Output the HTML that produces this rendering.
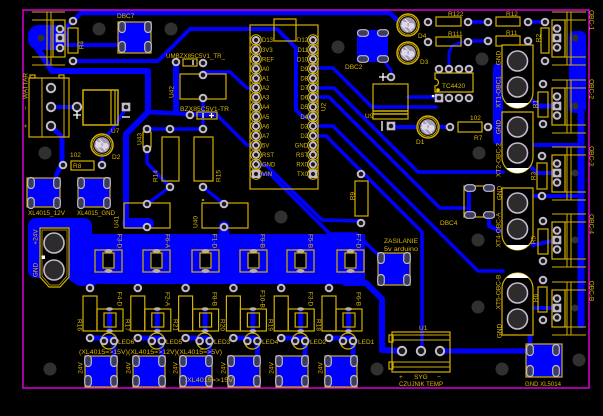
<!DOCTYPE html>
<html><head><meta charset="utf-8"><style>
html,body{margin:0;padding:0;background:#000;width:603px;height:416px;overflow:hidden}
svg{display:block}
text{font-family:"Liberation Sans",sans-serif;fill:#dcb800}
</style></head><body>
<svg width="603" height="416" viewBox="0 0 603 416" xmlns="http://www.w3.org/2000/svg">
<defs>
<g id="tp"><circle r="4.3" fill="#c4bccc"/><circle r="2.3" fill="#1a1a1a"/></g>
<g id="sq"><rect x="-4.3" y="-4.3" width="8.6" height="8.6" fill="#c4bccc"/><circle r="2.3" fill="#1a1a1a"/></g>
<g id="bp"><circle r="5.2" fill="#c4bccc"/><circle r="3.2" fill="#1a1a1a"/></g>
<g id="ap"><circle r="5.3" fill="none" stroke="#d4b000" stroke-width="1"/><circle r="4" fill="#c4bccc"/><circle r="2.1" fill="#1a1a1a"/></g>
<g id="aps"><circle r="5.3" fill="none" stroke="#d4b000" stroke-width="1"/><rect x="-4" y="-4" width="8" height="8" fill="#c4bccc"/><circle r="2.1" fill="#1a1a1a"/></g>
<g id="ov"><rect x="-3.3" y="-5.5" width="6.6" height="11" rx="3.3" fill="#3c3c5c" stroke="#c0b8cc" stroke-width="1.2"/></g>
<g id="oh"><rect x="-5.5" y="-3.3" width="11" height="6.6" rx="3.3" fill="#3c3c5c" stroke="#c0b8cc" stroke-width="1.2"/></g>
<g id="big"><circle r="10" fill="#2c2c2c" stroke="#c8b8d0" stroke-width="1.6"/></g>
<g id="led"><circle r="11" fill="#000" stroke="#d4b000" stroke-width="1.5"/><circle r="9.3" fill="none" stroke="#d4b000" stroke-width="0.8"/><circle r="7.8" fill="#a49cb0"/><path d="M-6,-4 L4,6 M-3,-6 L6,3 M-7,0 L0,7" stroke="#e8e0f0" stroke-width="1"/><rect x="-6" y="-3" width="5.5" height="5.5" fill="#e0d8e8"/><circle cx="3.5" cy="1" r="3" fill="#e0d8e8"/></g>
<g id="hole"><circle r="6.5" fill="#303030"/></g>
<g id="fuse"><rect x="0" y="0" width="27" height="22" fill="none" stroke="#d4b000" stroke-width="1.2"/><rect x="8" y="3" width="11" height="15" fill="#000" stroke="#d4b000" stroke-width="1.2"/><ellipse cx="13.5" cy="1" rx="4" ry="2" fill="#b8b0a0"/><ellipse cx="13.5" cy="21" rx="4" ry="2" fill="#b8b0a0"/></g>
<g id="hdr"><rect x="552" y="-18" width="13" height="37" fill="none" stroke="#d4b000" stroke-width="1.2"/><path d="M552,-26 H586 M552,27 H586 M567,-26 V27 M571,-26 V27 M565,-18 H586 M565,19 H586" stroke="#d4b000" stroke-width="1" fill="none"/><circle cx="575" cy="0" r="3.5" fill="#303030"/><use href="#tp" x="557" y="-9.5"/><use href="#sq" x="557" y="0"/><use href="#tp" x="557" y="9.5"/></g>
</defs>
<rect width="603" height="416" fill="#000"/>

<!-- ============ BLUE COPPER ============ -->
<g fill="#0000ff" stroke="none">
<rect x="28" y="25" width="40" height="25" rx="11"/>
<rect x="118" y="22" width="33" height="31"/>
<rect x="357" y="30" width="31" height="32"/>
<rect x="27" y="178" width="33" height="29"/>
<rect x="78" y="178" width="32" height="29"/>
<rect x="28" y="218" width="64" height="60" rx="8"/>
<rect x="62" y="234" width="303" height="13"/>
<rect x="92" y="246" width="273" height="38"/>
<rect x="122" y="218" width="32" height="11" rx="5.5"/>
<rect x="378" y="253" width="32" height="32"/>
<rect x="526" y="344" width="36" height="33"/>
<rect x="569" y="31" width="17" height="82" rx="5"/>
<rect x="85" y="356" width="32" height="31"/>
<rect x="133" y="356" width="32" height="31"/>
<rect x="180" y="356" width="32" height="31"/>
<rect x="228" y="356" width="32" height="31"/>
<rect x="276" y="356" width="32" height="31"/>
<rect x="325" y="356" width="32" height="31"/>
</g>
<g fill="none" stroke="#0000ff" stroke-linecap="round" stroke-linejoin="round">
<path d="M67,27 L81,13 L390,13 L400,23 L404,24" stroke-width="4.5"/>
<path d="M73,61 L158,61 L190,29 L277,29 L296,48 L296,110 L303,117 L313,117" stroke-width="4"/>
<path d="M36,46 L52,71 L148,71 L148,112 L126,134 L126,222" stroke-width="6"/>
<path d="M148,112 L190,114 L217,115" stroke-width="4.5"/>
<path d="M176,62 L176,112" stroke-width="6"/>
<path d="M63,45 L122,45" stroke-width="4"/>
<path d="M51,107 L77,107" stroke-width="4"/>
<path d="M126,108 L116,124 L104,140" stroke-width="3.5"/>
<path d="M51,126 L62,137 L62,163 L56,176" stroke-width="5"/>
<path d="M102,152 L102,165" stroke-width="3"/>
<path d="M203,72 L230,72 L247,88 L256,88" stroke-width="3.5"/>
<path d="M217,115 L247,145 L256,145" stroke-width="3.5"/>
<path d="M147,129 L203,129 M203,98 L203,129" stroke-width="3.5"/>
<path d="M147,149 L147,163 L170,187 L147,204" stroke-width="3.5"/>
<path d="M203,187 L224,204" stroke-width="3.5"/>
<path d="M224,226 L224,240" stroke-width="10"/>
<path d="M313,68 L333,68 L372,107 L436,107" stroke-width="3.5"/>
<path d="M313,88 L334,88 L418,172 L503,172" stroke-width="3.5"/>
<path d="M313,97 L329,97 L440,208 L465,208" stroke-width="3.5"/>
<path d="M313,126 L333,126 L478,271 L503,271" stroke-width="3.5"/>
<path d="M313,136 L326,136 L422,232 L422,350" stroke-width="3.5"/>
<path d="M256,165 L266,165 L322,220 L361,221" stroke-width="3.5"/>
<path d="M256,174 L270,174 L330,234 L357,234 L372,249 L380,256" stroke-width="3.5"/>
<path d="M498,68 L498,140" stroke-width="10"/>
<path d="M581,112 L581,325" stroke-width="7"/>
<path d="M517,87 L538,106 L557,106" stroke-width="5"/>
<path d="M522,145 L581,145" stroke-width="4"/>
<path d="M517,153 L537,173 L557,173" stroke-width="4"/>
<path d="M522,196 L581,196" stroke-width="4"/>
<path d="M517,229 L533,245 L557,240" stroke-width="4"/>
<path d="M517,319 L528,308 L557,308" stroke-width="4"/>
<path d="M469,188 L469,215" stroke-width="4"/>
<path d="M489,215 L489,226 L502,232" stroke-width="4"/>
<path d="M468,22 L488,22 M528,22 L545,22 M468,41 L488,41" stroke-width="3.5"/>
<path d="M462,42 L452,46 L449,52 L449,69" stroke-width="3"/>
<path d="M392,127 L450,127" stroke-width="4"/>
<path d="M408,97 L437,97" stroke-width="3.5"/>
<path d="M383,60 L391,70 L391,77" stroke-width="3"/>
<path d="M54,262 L80,280 L92,280" stroke-width="12"/>
<path d="M345,283 L366,283 L382,299 L382,350 L402,351" stroke-width="6"/>
<path d="M440,351 L528,351 M530,336 L530,350" stroke-width="5"/>
<path d="M90,284V288 M137.8,284V288 M185.6,284V288 M233.4,284V288 M281.2,284V288 M329,284V288" stroke-width="4"/>
<path d="M90,338H114V360 M137.8,338H161.8V360 M185.6,338H209.6V360 M233.4,338H257.4V360 M281.2,338H305.2V360 M329,338H353V360" stroke-width="5"/>
<path d="M109.5,313V331 M157.3,313V331 M205.1,313V331 M252.9,313V331 M300.7,313V331 M348.5,313V331" stroke-width="4"/>
</g>

<!-- mounting holes -->
<use href="#hole" x="99" y="29"/><use href="#hole" x="171" y="29"/><use href="#hole" x="338" y="47"/>
<use href="#hole" x="482" y="59"/><use href="#hole" x="45" y="153"/><use href="#hole" x="281" y="217"/>
<use href="#hole" x="479" y="153"/><use href="#hole" x="478" y="240"/><use href="#hole" x="50" y="369"/>
<use href="#hole" x="478" y="307"/><use href="#hole" x="502" y="369"/><use href="#hole" x="579" y="360"/>
<use href="#hole" x="377" y="369"/>
<circle cx="41" cy="38" r="3.5" fill="#303030"/>

<!-- magenta border -->
<rect x="23" y="10" width="566" height="378" fill="none" stroke="#d800d8" stroke-width="1.5"/>

<!-- ============ SILKSCREEN ============ -->
<g fill="none" stroke="#d4b000" stroke-width="1.2">
<!-- top-left header -->
<rect x="53" y="20" width="12" height="37"/>
<path d="M32,12 H65 M32,65 H65 M47,12 V65 M51,12 V65 M32,20 H53 M32,57 H53" stroke-width="1"/>
<!-- R4 -->
<rect x="68" y="28" width="10" height="25"/>
<rect x="118" y="22" width="33" height="31"/>
<!-- WATTAR terminal -->
<rect x="29" y="78" width="40" height="59"/>
<path d="M42,78 V137 M64,78 V137" stroke-width="1"/>
<rect x="30" y="75" width="5" height="3"/><rect x="59" y="75" width="5" height="3"/>
<!-- U7 -->
<rect x="83" y="90" width="35" height="35" stroke-width="1.5"/>
<path d="M111,90 V125 M115,90 V125"/>
<!-- R8 -->
<rect x="71" y="161" width="23" height="9"/>
<!-- XL pads outlines -->
<rect x="27" y="178" width="33" height="29"/><rect x="78" y="178" width="32" height="29"/>
<!-- U42 -->
<rect x="180" y="74" width="46" height="25"/>
<rect x="183" y="59" width="14" height="7"/>
<rect x="197" y="112" width="20" height="7"/>
<!-- U43 -->
<rect x="143" y="132" width="8" height="15"/>
<!-- R14 R15 -->
<rect x="162" y="137" width="17" height="44"/>
<rect x="194" y="137" width="19" height="44"/>
<!-- U41 U40 -->
<rect x="124" y="203" width="46" height="25"/>
<rect x="202" y="203" width="46" height="25"/>
<!-- Arduino -->
<rect x="250" y="25" width="68" height="164"/>
<rect x="274" y="19" width="22" height="22"/>
<!-- DBC2 / U9 -->
<rect x="373" y="84" width="35" height="35"/>
<path d="M373,111 H408 M373,114 H408" stroke-width="1.5"/>
<!-- R9 -->
<rect x="355" y="181" width="13" height="35"/>
<!-- top right resistors -->
<rect x="436" y="17" width="25" height="9"/><rect x="496" y="17" width="24" height="9"/>
<rect x="436" y="37" width="25" height="9"/><rect x="496" y="36" width="24" height="10"/>
<path d="M435,73 H473 V92 H435 V86 A3.5,3.5 0 0 0 435,79 Z"/>
<rect x="458" y="122" width="24" height="10"/>
<!-- right resistors -->
<rect x="541" y="28" width="8" height="25"/><rect x="538" y="92" width="10" height="25"/>
<rect x="537" y="163" width="10" height="26"/><rect x="538" y="229" width="10" height="25"/>
<rect x="538" y="287" width="9" height="25"/>
<!-- DBC4 -->
<rect x="464" y="186" width="30" height="31"/>
<!-- ZASILANIE, XL5014 -->
<rect x="378" y="253" width="32" height="32"/>
<rect x="526" y="344" width="36" height="33"/>
<!-- U1 -->
<rect x="392" y="332" width="58" height="40"/>
<path d="M392,335 H450 M392,340 H450 M392,362 H450 M392,367 H450" stroke-width="1"/>
<rect x="389" y="335" width="4" height="7"/><rect x="389" y="362" width="4" height="7"/>
<!-- lower row resistors, smd, leds -->
<rect x="83" y="296" width="14" height="35"/><rect x="130.8" y="296" width="14" height="35"/><rect x="178.6" y="296" width="14" height="35"/>
<rect x="226.4" y="296" width="14" height="35"/><rect x="274.2" y="296" width="14" height="35"/><rect x="322" y="296" width="14" height="35"/>
<rect x="97" y="309" width="26" height="22"/><rect x="144.8" y="309" width="26" height="22"/><rect x="192.6" y="309" width="26" height="22"/>
<rect x="240.4" y="309" width="26" height="22"/><rect x="288.2" y="309" width="26" height="22"/><rect x="336" y="309" width="26" height="22"/>
<rect x="104" y="313" width="12" height="14"/><rect x="151.8" y="313" width="12" height="14"/><rect x="199.6" y="313" width="12" height="14"/>
<rect x="247.4" y="313" width="12" height="14"/><rect x="295.2" y="313" width="12" height="14"/><rect x="343" y="313" width="12" height="14"/>
<circle cx="109" cy="341" r="8"/><circle cx="156.8" cy="341" r="8"/><circle cx="204.6" cy="341" r="8"/>
<circle cx="252.4" cy="341" r="8"/><circle cx="300.2" cy="341" r="8"/><circle cx="348" cy="341" r="8"/>
<rect x="85" y="356" width="32" height="31"/><rect x="133" y="356" width="32" height="31"/><rect x="180" y="356" width="32" height="31"/>
<rect x="228" y="356" width="32" height="31"/><rect x="276" y="356" width="32" height="31"/><rect x="325" y="356" width="32" height="31"/>
</g>

<!-- blue strips inside lower smd -->
<g fill="#0000ff"><rect x="107" y="314" width="5" height="12"/><rect x="154.8" y="314" width="5" height="12"/><rect x="202.6" y="314" width="5" height="12"/><rect x="250.4" y="314" width="5" height="12"/><rect x="298.2" y="314" width="5" height="12"/><rect x="346" y="314" width="5" height="12"/></g>
<g fill="#b8b0a0">
<ellipse cx="109.5" cy="309" rx="3.5" ry="1.8"/><ellipse cx="109.5" cy="331" rx="3.5" ry="1.8"/>
<ellipse cx="157.3" cy="309" rx="3.5" ry="1.8"/><ellipse cx="157.3" cy="331" rx="3.5" ry="1.8"/>
<ellipse cx="205.1" cy="309" rx="3.5" ry="1.8"/><ellipse cx="205.1" cy="331" rx="3.5" ry="1.8"/>
<ellipse cx="252.9" cy="309" rx="3.5" ry="1.8"/><ellipse cx="252.9" cy="331" rx="3.5" ry="1.8"/>
<ellipse cx="300.7" cy="309" rx="3.5" ry="1.8"/><ellipse cx="300.7" cy="331" rx="3.5" ry="1.8"/>
<ellipse cx="348.5" cy="309" rx="3.5" ry="1.8"/><ellipse cx="348.5" cy="331" rx="3.5" ry="1.8"/>
</g>

<!-- upper fuses -->
<use href="#fuse" x="95" y="250"/><use href="#fuse" x="143" y="250"/><use href="#fuse" x="192" y="250"/>
<use href="#fuse" x="240" y="250"/><use href="#fuse" x="287" y="250"/><use href="#fuse" x="337" y="250"/>

<!-- +24V connector -->
<path d="M40,228 H69 V277 L60,287 H49 L40,277 Z" fill="#000" stroke="#d4b000" stroke-width="1.2"/>
<path d="M42,230 H67 V276 L59,285 H50 L42,276 Z" fill="none" stroke="#d4b000" stroke-width="0.7"/>
<use href="#big" x="54" y="243"/><use href="#big" x="54" y="270"/>
<rect x="41.5" y="255.5" width="3.5" height="3.5" fill="#fff"/>

<!-- XT connectors -->
<g stroke="#d4b000" stroke-width="1.2" fill="#000">
<path d="M502,45 H533 V92.5 A15.5,15.5 0 0 1 502,92.5 Z"/>
<path d="M502,112 H533 V157.5 A15.5,15.5 0 0 1 502,157.5 Z"/>
<path d="M502,188 H533 V234.5 A15.5,15.5 0 0 1 502,234.5 Z"/>
<path d="M502,335 H533 V288.5 A15.5,15.5 0 0 0 502,288.5 Z"/>
</g>
<g fill="#fff">
<path d="M506.1,103 A15.5,15.5 0 0 0 528.9,103 Z"/>
<path d="M506.1,168 A15.5,15.5 0 0 0 528.9,168 Z"/>
<path d="M506.1,245 A15.5,15.5 0 0 0 528.9,245 Z"/>
<path d="M506.1,278 A15.5,15.5 0 0 1 528.9,278 Z"/>
</g>
<use href="#big" x="517.5" y="61"/><use href="#big" x="517.5" y="87"/>
<use href="#big" x="517.5" y="127"/><use href="#big" x="517.5" y="153"/>
<use href="#big" x="517.5" y="203"/><use href="#big" x="517.5" y="229"/>
<use href="#big" x="517.5" y="293"/><use href="#big" x="517.5" y="319"/>

<!-- right headers -->
<use href="#hdr" x="0" y="38"/><use href="#hdr" x="0" y="106"/><use href="#hdr" x="0" y="173"/>
<use href="#hdr" x="0" y="240"/><use href="#hdr" x="0" y="308"/>

<!-- LEDs -->
<use href="#led" x="408" y="25"/><use href="#led" x="408" y="53"/>
<use href="#led" x="428" y="127"/><use href="#led" x="102" y="145"/>

<!-- pads -->
<use href="#tp" x="60" y="29"/><use href="#sq" x="60" y="38"/><use href="#tp" x="60" y="48"/>
<use href="#tp" x="73" y="21"/><use href="#tp" x="73" y="61"/>
<use href="#bp" x="51" y="88"/><use href="#bp" x="51" y="107"/><use href="#bp" x="51" y="126"/>
<use href="#bp" x="77" y="107"/><use href="#sq" x="126" y="107"/>
<use href="#tp" x="63" y="165"/><use href="#tp" x="102" y="165"/>
<use href="#tp" x="176" y="62"/><use href="#tp" x="203" y="63"/><use href="#tp" x="203" y="75"/><use href="#tp" x="203" y="98"/>
<use href="#tp" x="190" y="115"/><use href="#tp" x="147" y="129"/><use href="#tp" x="147" y="149"/>
<use href="#tp" x="170" y="129"/><use href="#tp" x="203" y="129"/><use href="#tp" x="170" y="187"/><use href="#tp" x="203" y="187"/>
<use href="#tp" x="147" y="204"/><use href="#tp" x="147" y="227"/><use href="#tp" x="224" y="204"/><use href="#tp" x="224" y="227"/>
<use href="#tp" x="361" y="174"/><use href="#tp" x="361" y="223"/>
<use href="#tp" x="391" y="77"/><use href="#sq" x="391" y="126"/>
<use href="#tp" x="450" y="127"/><use href="#tp" x="488" y="127"/>
<use href="#tp" x="428" y="22"/><use href="#tp" x="468" y="22"/><use href="#tp" x="488" y="22"/><use href="#tp" x="528" y="22"/>
<use href="#tp" x="428" y="42"/><use href="#tp" x="468" y="42"/><use href="#tp" x="488" y="41"/><use href="#tp" x="528" y="41"/>
<use href="#tp" x="439" y="69"/><use href="#tp" x="449" y="69"/><use href="#tp" x="459" y="69"/><use href="#tp" x="469" y="69"/>
<use href="#sq" x="439" y="98"/><use href="#tp" x="449" y="98"/><use href="#tp" x="459" y="98"/><use href="#tp" x="469" y="98"/>
<use href="#tp" x="545" y="22"/><use href="#tp" x="545" y="61"/><use href="#tp" x="543" y="84"/><use href="#tp" x="543" y="124"/>
<use href="#tp" x="542" y="156"/><use href="#tp" x="542" y="196"/><use href="#tp" x="543" y="221"/><use href="#tp" x="543" y="261"/>
<use href="#tp" x="543" y="280"/><use href="#tp" x="543" y="320"/>
<use href="#bp" x="402" y="351"/><use href="#bp" x="421" y="351"/><use href="#bp" x="440" y="351"/>
<use href="#tp" x="90" y="288"/><use href="#tp" x="137.8" y="288"/><use href="#tp" x="185.6" y="288"/><use href="#tp" x="233.4" y="288"/><use href="#tp" x="281.2" y="288"/><use href="#tp" x="329" y="288"/>
<use href="#tp" x="90" y="338"/><use href="#tp" x="137.8" y="338"/><use href="#tp" x="185.6" y="338"/><use href="#tp" x="233.4" y="338"/><use href="#tp" x="281.2" y="338"/><use href="#tp" x="329" y="338"/>
<g>
<use href="#tp" x="104" y="341"/><use href="#tp" x="114" y="341"/><use href="#tp" x="151.8" y="341"/><use href="#tp" x="161.8" y="341"/>
<use href="#tp" x="199.6" y="341"/><use href="#tp" x="209.6" y="341"/><use href="#tp" x="247.4" y="341"/><use href="#tp" x="257.4" y="341"/>
<use href="#tp" x="295.2" y="341"/><use href="#tp" x="305.2" y="341"/><use href="#tp" x="343" y="341"/><use href="#tp" x="353" y="341"/>
</g>

<!-- SMD ovals -->
<use href="#ov" x="122" y="27"/><use href="#ov" x="148" y="27"/><use href="#ov" x="122" y="47"/><use href="#ov" x="148" y="47"/>
<use href="#oh" x="363" y="33"/><use href="#oh" x="383" y="33"/><use href="#oh" x="363" y="59"/><use href="#oh" x="383" y="59"/>
<use href="#ov" x="31" y="183"/><use href="#ov" x="57" y="183"/><use href="#ov" x="31" y="203"/><use href="#ov" x="57" y="203"/>
<use href="#ov" x="81" y="183"/><use href="#ov" x="107" y="183"/><use href="#ov" x="81" y="203"/><use href="#ov" x="107" y="203"/>
<use href="#oh" x="470" y="188"/><use href="#oh" x="489" y="188"/><use href="#oh" x="470" y="215"/><use href="#oh" x="489" y="215"/>
<use href="#ov" x="381" y="258"/><use href="#ov" x="407" y="258"/><use href="#ov" x="381" y="280"/><use href="#ov" x="407" y="280"/>
<use href="#ov" x="530" y="350"/><use href="#ov" x="556" y="350"/><use href="#ov" x="530" y="371"/><use href="#ov" x="556" y="371"/>
<use href="#ov" x="88" y="361"/><use href="#ov" x="114" y="361"/><use href="#ov" x="88" y="381"/><use href="#ov" x="114" y="381"/>
<use href="#ov" x="136" y="361"/><use href="#ov" x="162" y="361"/><use href="#ov" x="136" y="381"/><use href="#ov" x="162" y="381"/>
<use href="#ov" x="183" y="361"/><use href="#ov" x="209" y="361"/><use href="#ov" x="183" y="381"/><use href="#ov" x="209" y="381"/>
<use href="#ov" x="231" y="361"/><use href="#ov" x="257" y="361"/><use href="#ov" x="231" y="381"/><use href="#ov" x="257" y="381"/>
<use href="#ov" x="279" y="361"/><use href="#ov" x="305" y="361"/><use href="#ov" x="279" y="381"/><use href="#ov" x="305" y="381"/>
<use href="#ov" x="328" y="361"/><use href="#ov" x="354" y="361"/><use href="#ov" x="328" y="381"/><use href="#ov" x="354" y="381"/>

<!-- Arduino pins -->
<use href="#ap" x="256" y="40"/><use href="#ap" x="256" y="49.6"/><use href="#ap" x="256" y="59.1"/><use href="#ap" x="256" y="68.7"/><use href="#ap" x="256" y="78.3"/>
<use href="#ap" x="256" y="87.9"/><use href="#ap" x="256" y="97.4"/><use href="#ap" x="256" y="107"/><use href="#ap" x="256" y="116.6"/><use href="#ap" x="256" y="126.1"/>
<use href="#ap" x="256" y="135.7"/><use href="#ap" x="256" y="145.3"/><use href="#ap" x="256" y="154.8"/><use href="#ap" x="256" y="164.4"/><use href="#aps" x="256" y="174"/>
<use href="#ap" x="313" y="40"/><use href="#ap" x="313" y="49.6"/><use href="#ap" x="313" y="59.1"/><use href="#ap" x="313" y="68.7"/><use href="#ap" x="313" y="78.3"/>
<use href="#ap" x="313" y="87.9"/><use href="#ap" x="313" y="97.4"/><use href="#ap" x="313" y="107"/><use href="#ap" x="313" y="116.6"/><use href="#ap" x="313" y="126.1"/>
<use href="#ap" x="313" y="135.7"/><use href="#ap" x="313" y="145.3"/><use href="#ap" x="313" y="154.8"/><use href="#ap" x="313" y="164.4"/><use href="#aps" x="313" y="174"/>

<!-- white marks -->
<g stroke="#fff" stroke-width="1.3" fill="none">
<path d="M73,115 H81 M77,111 V119"/>
<path d="M122,117 H130"/>
<path d="M379,77 H387 M383,73 V81"/>
<path d="M382,121 V131"/>
<path d="M193,60 V65"/>
<path d="M203,113 V118 M209,115.5 H214 M211.5,113 V118"/>
</g>
<circle cx="433" cy="96" r="1.3" fill="#fff"/>
<circle cx="438" cy="90" r="1.8" fill="#e8c800"/>
<circle cx="203" cy="200" r="1" fill="#e8c800"/>

<!-- ============ TEXT ============ -->
<g font-size="6.5">
<text x="117" y="18">DBC7</text>
<text x="111" y="133">U7</text>
<text x="112" y="159">D2</text>
<text x="70" y="157">102</text>
<text x="73" y="168">R8</text>
<text x="28" y="215" textLength="37" lengthAdjust="spacingAndGlyphs">XL4015_12V</text>
<text x="77" y="215" textLength="38" lengthAdjust="spacingAndGlyphs">XL4015_GND</text>
<text x="166" y="58" textLength="59" lengthAdjust="spacingAndGlyphs">UMBZX85C5V1_TR_</text>
<text x="180" y="111" textLength="49" lengthAdjust="spacingAndGlyphs">BZX85C5V1-TR</text>
<text x="79" y="354" textLength="143" lengthAdjust="spacingAndGlyphs">(XL4015=&gt;15V)(XL4015=&gt;12V)(XL4015=&gt;5V)</text>
<text x="187" y="382" textLength="46" lengthAdjust="spacingAndGlyphs">XL4015=&gt;15V</text>
<text x="118" y="344">LED6</text><text x="166" y="344">LED5</text><text x="214" y="344">LED3</text>
<text x="262" y="344">LED4</text><text x="310" y="344">LED2</text><text x="358" y="344">LED1</text>
<text x="384" y="243" textLength="34" lengthAdjust="spacingAndGlyphs">ZASILANIE</text>
<text x="384" y="251" textLength="34" lengthAdjust="spacingAndGlyphs">5v arduino</text>
<text x="419" y="330">U1</text>
<text x="399" y="379">+</text><text x="414" y="379">SYG</text><text x="437" y="379">−</text>
<text x="399" y="386" textLength="44" lengthAdjust="spacingAndGlyphs">CZUJNIK TEMP</text>
<text x="525" y="386" textLength="36" lengthAdjust="spacingAndGlyphs">GND XL5014</text>
<text x="345" y="69">DBC2</text>
<text x="365" y="118">U9</text>
<text x="416" y="144">D1</text>
<text x="470" y="120">102</text>
<text x="474" y="140">R7</text>
<text x="418" y="38">D4</text>
<text x="420" y="64">D3</text>
<text x="448" y="16">R122</text>
<text x="506" y="16">R12</text>
<text x="448" y="36">R111</text>
<text x="506" y="35">R11</text>
<text x="442" y="88">TC4420</text>
<text x="440" y="225">DBC4</text>
</g>
<g font-size="6.5" text-anchor="middle">
<text transform="translate(81,45) rotate(-90)" dy="2.3">R4</text>
<text transform="translate(25,86) rotate(-90)" dy="2.3">WATTAR</text>
<text transform="translate(25,108) rotate(-90)" dy="2.3">−</text>
<text transform="translate(25,126) rotate(-90)" dy="2.3">+</text>
<text transform="translate(35,237) rotate(-90)" dy="2.3">+24V</text>
<text transform="translate(35,270) rotate(-90)" dy="2.3">GND</text>
<text transform="translate(171,92) rotate(-90)" dy="2.3">U42</text>
<text transform="translate(139,139) rotate(-90)" dy="2.3">U43</text>
<text transform="translate(155,176) rotate(-90)" dy="2.3">R14</text>
<text transform="translate(218,176) rotate(-90)" dy="2.3">R15</text>
<text transform="translate(116,222) rotate(-90)" dy="2.3">U41</text>
<text transform="translate(195,222) rotate(-90)" dy="2.3">U40</text>
<text transform="translate(352,196) rotate(-90)" dy="2.3">R9</text>
<text transform="translate(323,107) rotate(-90)" dy="2.3">U2</text>
<text transform="translate(120,241) rotate(90)" dy="2.3">F3-D</text>
<text transform="translate(168,241) rotate(90)" dy="2.3">F6-A</text>
<text transform="translate(215,241) rotate(90)" dy="2.3">F1-D</text>
<text transform="translate(263,241) rotate(90)" dy="2.3">F9-B</text>
<text transform="translate(311,241) rotate(90)" dy="2.3">F5-B</text>
<text transform="translate(359,241) rotate(90)" dy="2.3">F7-D</text>
<text transform="translate(120,299) rotate(90)" dy="2.3">F4-D</text>
<text transform="translate(168,299) rotate(90)" dy="2.3">F2-A</text>
<text transform="translate(215,299) rotate(90)" dy="2.3">F8-B</text>
<text transform="translate(263,299) rotate(90)" dy="2.3">F10-B</text>
<text transform="translate(311,299) rotate(90)" dy="2.3">F3-D</text>
<text transform="translate(359,299) rotate(90)" dy="2.3">F6-B</text>
<text transform="translate(80,325) rotate(90)" dy="2.3">R16</text>
<text transform="translate(128,325) rotate(90)" dy="2.3">R17</text>
<text transform="translate(176,325) rotate(90)" dy="2.3">R21</text>
<text transform="translate(223,325) rotate(90)" dy="2.3">R20</text>
<text transform="translate(271,325) rotate(90)" dy="2.3">R19</text>
<text transform="translate(319,325) rotate(90)" dy="2.3">R18</text>
<text transform="translate(80,368) rotate(-90)" dy="2.3">24V</text>
<text transform="translate(128,368) rotate(-90)" dy="2.3">24V</text>
<text transform="translate(175,368) rotate(-90)" dy="2.3">24V</text>
<text transform="translate(223,368) rotate(-90)" dy="2.3">24V</text>
<text transform="translate(271,368) rotate(-90)" dy="2.3">24V</text>
<text transform="translate(320,368) rotate(-90)" dy="2.3">24V</text>
<text transform="translate(498,58) rotate(-90)" dy="2.3">GND</text>
<text transform="translate(498,92) rotate(-90)" dy="2.3">XT1-OBC1</text>
<text transform="translate(498,127) rotate(-90)" dy="2.3">GND</text>
<text transform="translate(498,160) rotate(-90)" dy="2.3">XT2-OBC-2</text>
<text transform="translate(499,193) rotate(-90)" dy="2.3">GND</text>
<text transform="translate(498,230) rotate(-90)" dy="2.3">XT4-OBC-A</text>
<text transform="translate(498,292) rotate(-90)" dy="2.3">XT5-OBC-B</text>
<text transform="translate(499,331) rotate(-90)" dy="2.3">GND</text>
<text transform="translate(538,38) rotate(-90)" dy="2.3">R2</text>
<text transform="translate(535,104) rotate(-90)" dy="2.3">R1</text>
<text transform="translate(533,176) rotate(-90)" dy="2.3">R3</text>
<text transform="translate(533,240) rotate(-90)" dy="2.3">R5</text>
<text transform="translate(535,298) rotate(-90)" dy="2.3">R6</text>
<text transform="translate(592,20) rotate(90)" dy="2.3">OBC-1</text>
<text transform="translate(592,89) rotate(90)" dy="2.3">OBC-2</text>
<text transform="translate(592,156) rotate(90)" dy="2.3">OBC-3</text>
<text transform="translate(592,224) rotate(90)" dy="2.3">OBC-4</text>
<text transform="translate(592,291) rotate(90)" dy="2.3">OBC-B</text>
</g>
<g font-size="6">
<text x="262" y="42.2">D13</text><text x="262" y="51.8">3V3</text><text x="262" y="61.3">REF</text><text x="262" y="70.9">A0</text><text x="262" y="80.5">A1</text>
<text x="262" y="90.1">A2</text><text x="262" y="99.6">A3</text><text x="262" y="109.2">A4</text><text x="262" y="118.8">A5</text><text x="262" y="128.3">A6</text>
<text x="262" y="137.9">A7</text><text x="262" y="147.5">5V</text><text x="262" y="157">RST</text><text x="262" y="166.6">GND</text><text x="262" y="176.2">VIN</text>
</g>
<g font-size="6" text-anchor="end">
<text x="308" y="42.2">D12</text><text x="308" y="51.8">D11</text><text x="308" y="61.3">D10</text><text x="308" y="70.9">D9</text><text x="308" y="80.5">D8</text>
<text x="308" y="90.1">D7</text><text x="308" y="99.6">D6</text><text x="308" y="109.2">D5</text><text x="308" y="118.8">D4</text><text x="308" y="128.3">D3</text>
<text x="308" y="137.9">D2</text><text x="308" y="147.5">GND</text><text x="308" y="157">RST</text><text x="308" y="166.6">RX0</text><text x="308" y="176.2">TX0</text>
</g>
</svg>
</body></html>
